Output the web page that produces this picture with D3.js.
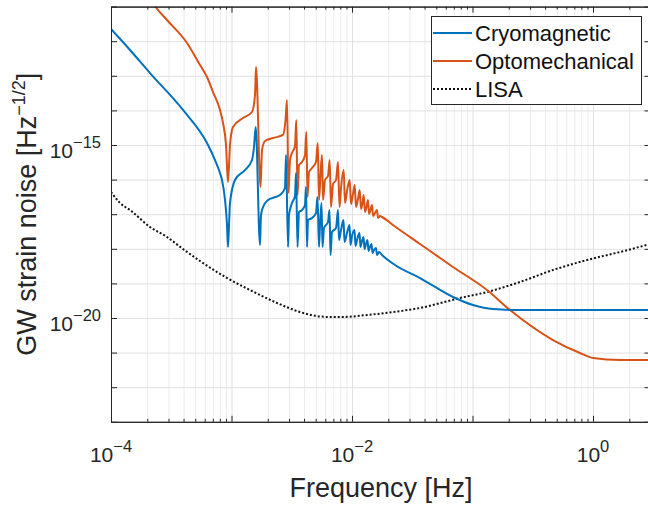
<!DOCTYPE html>
<html>
<head>
<meta charset="utf-8">
<script src="https://cdn.jsdelivr.net/npm/d3@7"></script>
<style>
  body { margin: 0; background: #fff; }
  svg { display: block; font-family: "Liberation Sans", Arial, sans-serif; }
</style>
</head>
<body>
<svg id="chart" width="648" height="506"></svg>
<script>
// [frequency (Hz), strain noise (Hz^-1/2)]
const cryomagnetic = [
  [1e-4, 2.25e-12], [1.438e-4, 5.57e-13], [2.107e-4, 1.20e-13], [3.959e-4, 1.03e-14],
  [6.262e-4, 1.14e-15], [7.296e-4, 3.68e-16], [8.025e-4, 1.55e-16], [8.340e-4, 9.73e-17],
  [8.834e-4, 2.57e-17], [9.178e-4, 4.88e-18], [9.354e-4, 1.13e-18], [9.535e-4, 4.88e-18],
  [9.718e-4, 2.11e-17], [1.069e-3, 9.73e-17], [1.294e-3, 1.89e-16], [1.480e-3, 3.68e-16],
  [1.537e-3, 8.75e-16], [1.588e-3, 3.31e-15], [1.724e-3, 1.29e-18], [1.757e-3, 9.48e-18],
  [1.826e-3, 1.61e-17], [2.009e-3, 2.57e-17], [2.527e-3, 3.59e-17], [2.780e-3, 5.71e-17],
  [2.834e-3, 5.14e-16], [2.944e-3, 1.13e-18], [3.001e-3, 9.48e-18], [3.178e-3, 2.11e-17],
  [3.365e-3, 3.36e-17], [3.430e-3, 1.55e-16], [3.530e-3, 1.13e-18], [3.633e-3, 1.16e-17],
  [3.848e-3, 1.32e-17], [4.074e-3, 1.85e-17], [4.153e-3, 6.11e-17], [4.233e-3, 1.13e-18],
  [4.315e-3, 6.79e-18], [4.656e-3, 7.76e-18], [5.025e-3, 1.08e-17], [5.172e-3, 3.14e-17],
  [5.322e-3, 1.13e-18], [5.425e-3, 4.88e-18], [5.583e-3, 2.11e-17], [5.691e-3, 1.13e-18],
  [5.856e-3, 3.99e-18], [6.321e-3, 5.95e-18], [6.505e-3, 1.32e-17], [6.631e-3, 6.62e-19],
  [6.823e-3, 3.06e-18], [7.366e-3, 3.99e-18], [7.653e-3, 1.32e-17], [7.801e-3, 1.79e-18],
  [8.105e-3, 3.49e-18], [8.502e-3, 6.79e-18], [8.666e-3, 1.57e-18], [9.089e-3, 2.86e-18],
  [9.535e-3, 4.88e-18], [9.718e-3, 1.29e-18], [1.000e-2, 2.34e-18], [1.049e-2, 3.49e-18],
  [1.069e-2, 1.21e-18], [1.111e-2, 2.05e-18], [1.154e-2, 2.86e-18], [1.176e-2, 1.13e-18],
  [1.211e-2, 1.68e-18], [1.246e-2, 2.19e-18], [1.270e-2, 9.86e-19], [1.306e-2, 1.38e-18],
  [1.344e-2, 1.79e-18], [1.371e-2, 8.63e-19], [1.410e-2, 1.13e-18], [1.451e-2, 1.38e-18],
  [1.480e-2, 7.57e-19], [1.523e-2, 9.23e-19], [1.582e-2, 1.05e-18], [1.612e-2, 6.62e-19],
  [1.675e-2, 8.09e-19], [1.774e-2, 6.62e-19], [2.274e-2, 3.40e-19], [3.667e-2, 1.43e-19],
  [6.890e-2, 4.05e-20], [0.1010, 2.38e-20], [0.1480, 1.82e-20], [0.2479, 1.70e-20],
  [3.0, 1.70e-20]
];

const optomechanical = [
  [2.189e-4, 1.45e-11], [2.318e-4, 1.04e-11], [2.915e-4, 4.10e-12], [4.273e-4, 8.87e-13],
  [5.478e-4, 2.05e-13], [6.262e-4, 9.23e-14], [7.023e-4, 3.40e-14], [8.025e-4, 1.03e-14],
  [8.502e-4, 4.33e-15], [9.004e-4, 1.00e-15], [9.354e-4, 8.53e-17], [9.718e-4, 1.00e-15],
  [1.029e-3, 3.31e-15], [1.246e-3, 6.03e-15], [1.480e-3, 8.99e-15], [1.567e-3, 2.79e-14],
  [1.597e-3, 1.80e-13], [1.741e-3, 6.11e-17], [1.791e-3, 7.17e-16], [1.897e-3, 1.31e-15],
  [2.210e-3, 1.59e-15], [2.676e-3, 1.95e-15], [2.807e-3, 5.28e-15], [2.889e-3, 2.00e-14],
  [2.972e-3, 4.10e-17], [3.059e-3, 3.68e-16], [3.178e-3, 5.87e-16], [3.365e-3, 9.35e-16],
  [3.450e-3, 5.28e-15], [3.530e-3, 3.59e-17], [3.633e-3, 2.64e-16], [3.848e-3, 3.23e-16],
  [4.074e-3, 5.14e-16], [4.176e-3, 2.38e-15], [4.273e-3, 3.14e-17], [4.398e-3, 1.66e-16],
  [4.656e-3, 2.16e-16], [5.025e-3, 3.23e-16], [5.202e-3, 1.14e-15], [5.322e-3, 2.57e-17],
  [5.477e-3, 1.36e-16], [5.636e-3, 5.14e-16], [5.745e-3, 2.57e-17], [5.969e-3, 9.73e-17],
  [6.321e-3, 1.27e-16], [6.530e-3, 3.68e-16], [6.694e-3, 1.61e-17], [6.955e-3, 7.46e-17],
  [7.366e-3, 9.73e-17], [7.653e-3, 3.23e-16], [7.876e-3, 1.61e-17], [8.105e-3, 5.71e-17],
  [8.534e-3, 1.89e-16], [8.749e-3, 2.11e-17], [9.089e-3, 4.69e-17], [9.570e-3, 9.73e-17],
  [9.811e-3, 1.97e-17], [1.019e-2, 3.84e-17], [1.053e-2, 6.98e-17], [1.079e-2, 1.61e-17],
  [1.121e-2, 2.75e-17], [1.158e-2, 5.00e-17], [1.188e-2, 1.41e-17], [1.222e-2, 2.11e-17],
  [1.250e-2, 3.59e-17], [1.282e-2, 1.16e-17], [1.319e-2, 1.61e-17], [1.357e-2, 2.57e-17],
  [1.384e-2, 1.01e-17], [1.424e-2, 1.32e-17], [1.466e-2, 1.85e-17], [1.494e-2, 8.87e-18],
  [1.552e-2, 1.08e-17], [1.612e-2, 1.32e-17], [1.643e-2, 7.76e-18], [1.708e-2, 8.87e-18],
  [1.774e-2, 8.30e-18], [2.274e-2, 4.40e-18], [3.667e-2, 1.38e-18], [6.890e-2, 2.98e-19],
  [0.1319, 6.44e-20], [0.2048, 1.70e-20], [0.4656, 2.31e-21], [0.7801, 9.73e-22],
  [1.0, 6.98e-22], [1.675, 6.11e-22], [3.0, 6.11e-22]
];

const lisa = [
  [1e-4, 4.39e-17], [1.188e-4, 2.11e-17], [1.438e-4, 1.32e-17], [2.107e-4, 4.27e-18],
  [2.915e-4, 2.19e-18], [3.959e-4, 9.86e-19], [5.478e-4, 4.44e-19], [9.178e-4, 1.43e-19],
  [1.424e-3, 6.44e-20], [2.386e-3, 2.72e-20], [3.703e-3, 1.49e-20], [5.123e-3, 1.14e-20],
  [6.567e-3, 1.07e-20], [8.420e-3, 1.07e-20], [1.332e-2, 1.22e-20], [2.189e-2, 1.49e-20],
  [3.667e-2, 1.95e-20], [7.877e-2, 3.79e-20], [0.1319, 5.64e-20], [0.2479, 1.10e-19],
  [0.4656, 2.44e-19], [0.8917, 4.74e-19], [1.675, 8.09e-19], [3.0, 1.38e-18]
];

const seriesNames = ['Cryomagnetic', 'Optomechanical', 'LISA'];
const xTickValues = [1e-4, 1e-2, 1e0];
const xTickExponents = ['\u22124', '\u22122', '0'];
const yTickValues = [1e-20, 1e-15];
const yTickExponents = ['\u221220', '\u221215'];

const svg = d3.select('#chart');
const plotLeft = 111, plotRight = 650.5, plotTop = 6.6, plotBottom = 421.8;
const ink = '#262626';

const x = d3.scaleLog().domain([1e-4, 3]).range([plotLeft, plotRight]);
const y = d3.scaleLog().domain([1e-23, 1e-11]).range([plotBottom, plotTop]);

const xAll = x.ticks();
const xMajor = xAll.filter(d => Math.abs(Math.log10(d) - Math.round(Math.log10(d))) < 1e-9);
const xMinor = xAll.filter(d => xMajor.indexOf(d) < 0);
const yDecades = d3.range(-23, -10).map(e => Math.pow(10, e));

// grid
const grid = svg.append('g');
grid.append('g')
  .attr('transform', 'translate(0,' + plotBottom + ')')
  .call(d3.axisBottom(x).tickValues(xMinor).tickSize(-(plotBottom - plotTop)).tickFormat(''))
  .call(g => g.select('.domain').remove())
  .selectAll('line').attr('stroke', '#ececec');
grid.append('g')
  .attr('transform', 'translate(0,' + plotBottom + ')')
  .call(d3.axisBottom(x).tickValues(xMajor).tickSize(-(plotBottom - plotTop)).tickFormat(''))
  .call(g => g.select('.domain').remove())
  .selectAll('line').attr('stroke', '#e0e0e0');
grid.append('g')
  .attr('transform', 'translate(' + plotLeft + ',0)')
  .call(d3.axisLeft(y).tickValues(yDecades).tickSize(-(plotRight - plotLeft)).tickFormat(''))
  .call(g => g.select('.domain').remove())
  .selectAll('line').attr('stroke', '#e0e0e0');

// curves
svg.append('clipPath').attr('id', 'clip')
  .append('rect').attr('x', plotLeft).attr('y', plotTop)
  .attr('width', plotRight - plotLeft).attr('height', plotBottom - plotTop);

const line = d3.line().curve(d3.curveMonotoneX).x(d => x(d[0])).y(d => y(d[1]));
const plot = svg.append('g').attr('clip-path', 'url(#clip)');

plot.append('path').attr('d', line(lisa))
  .attr('fill', 'none').attr('stroke', '#111').attr('stroke-width', 2).attr('stroke-dasharray', '2,2');
plot.append('path').attr('d', line(optomechanical))
  .attr('fill', 'none').attr('stroke', '#D95319').attr('stroke-width', 2).attr('stroke-linejoin', 'round');
plot.append('path').attr('d', line(cryomagnetic))
  .attr('fill', 'none').attr('stroke', '#0072BD').attr('stroke-width', 2).attr('stroke-linejoin', 'round');

// axes (box with inward ticks)
function styleAxis(g) {
  g.selectAll('path, line').attr('stroke', ink);
  g.selectAll('text').remove();
}
const axes = svg.append('g');
axes.append('g').attr('transform', 'translate(0,' + plotBottom + ')')
  .call(d3.axisBottom(x).tickValues(xMinor).tickSizeInner(-3).tickSizeOuter(0)).call(styleAxis);
axes.append('g').attr('transform', 'translate(0,' + plotBottom + ')')
  .call(d3.axisBottom(x).tickValues(xMajor).tickSizeInner(-6).tickSizeOuter(0)).call(styleAxis);
axes.append('g').attr('transform', 'translate(0,' + plotTop + ')')
  .call(d3.axisTop(x).tickValues(xMinor).tickSizeInner(-3).tickSizeOuter(0)).call(styleAxis);
axes.append('g').attr('transform', 'translate(0,' + plotTop + ')')
  .call(d3.axisTop(x).tickValues(xMajor).tickSizeInner(-6).tickSizeOuter(0)).call(styleAxis);
axes.append('g').attr('transform', 'translate(' + plotLeft + ',0)')
  .call(d3.axisLeft(y).tickValues(yDecades).tickSizeInner(-6).tickSizeOuter(0)).call(styleAxis);
axes.append('g').attr('transform', 'translate(' + plotRight + ',0)')
  .call(d3.axisRight(y).tickValues(yDecades).tickSizeInner(-6).tickSizeOuter(0)).call(styleAxis);

// tick labels
svg.append('g').attr('fill', ink).attr('font-size', 21)
  .selectAll('text').data(xTickValues).join('text')
  .attr('x', d => x(d)).attr('y', 462).attr('text-anchor', 'middle')
  .each(function(d, i) {
    const t = d3.select(this);
    t.append('tspan').text('10');
    t.append('tspan').attr('dy', -10).attr('font-size', 16.5).text(xTickExponents[i]);
  });

svg.append('g').attr('fill', ink).attr('font-size', 21)
  .selectAll('text').data(yTickValues).join('text')
  .attr('x', 101).attr('y', d => y(d) + 13).attr('text-anchor', 'end')
  .each(function(d, i) {
    const t = d3.select(this);
    t.append('tspan').text('10');
    t.append('tspan').attr('dy', -10).attr('font-size', 16.5).text(yTickExponents[i]);
  });

// axis titles
svg.append('text').attr('x', (plotLeft + 651) / 2).attr('y', 497)
  .attr('text-anchor', 'middle').attr('font-size', 27).attr('fill', ink)
  .text('Frequency [Hz]');

const yl = svg.append('text')
  .attr('transform', 'translate(36,' + ((plotTop + plotBottom) / 2) + ') rotate(-90)')
  .attr('text-anchor', 'middle').attr('font-size', 27).attr('fill', ink);
yl.append('tspan').text('GW strain noise [Hz');
yl.append('tspan').attr('dy', -11).attr('font-size', 18).text('\u22121/2');
yl.append('tspan').attr('dy', 11).text(']');

// legend
const legend = svg.append('g');
legend.append('rect').attr('x', 431.5).attr('y', 16.5).attr('width', 210).attr('height', 88)
  .attr('fill', '#fff').attr('stroke', ink).attr('stroke-width', 1);
const legendColors = ['#0072BD', '#D95319', '#111'];
const rows = legend.selectAll('g.row').data(seriesNames).join('g')
  .attr('transform', (d, i) => 'translate(0,' + (33 + i * 28) + ')');
rows.append('line').attr('x1', 433).attr('x2', 472).attr('y1', 0).attr('y2', 0)
  .attr('stroke', (d, i) => legendColors[i]).attr('stroke-width', 2)
  .attr('stroke-dasharray', (d, i) => i === 2 ? '2,2' : null);
rows.append('text').attr('x', 475).attr('y', 8).attr('font-size', 22).attr('fill', '#111')
  .text(d => d);
</script>
</body>
</html>
